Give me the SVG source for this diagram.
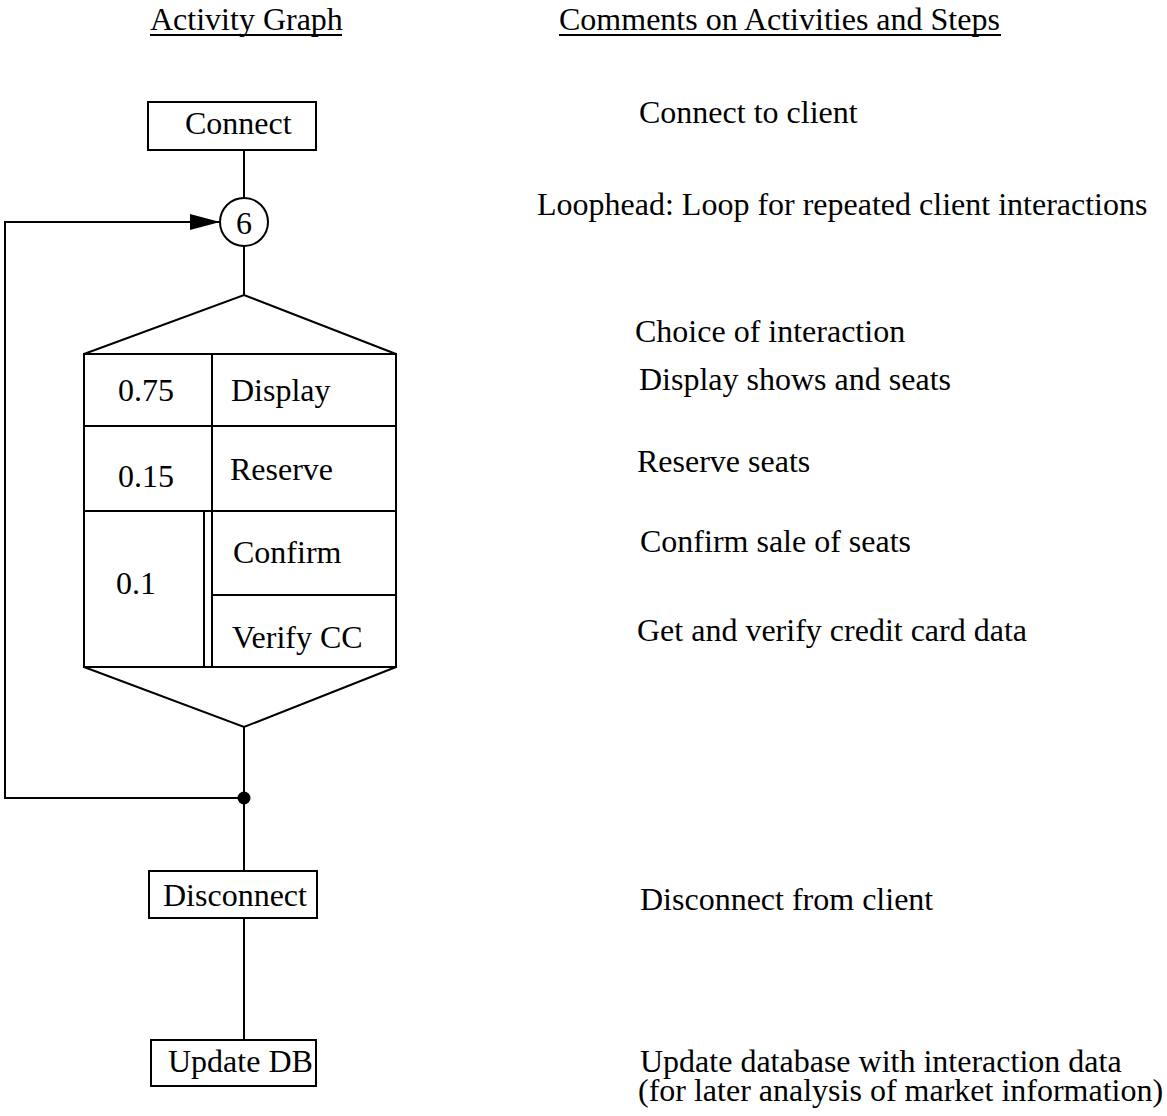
<svg xmlns="http://www.w3.org/2000/svg" width="1167" height="1116" viewBox="0 0 1167 1116">
  <style>
    text { font-family: "Liberation Serif", "Times New Roman", serif; font-size: 32px; fill: #000; }
    .box { fill: #fff; stroke: #000; stroke-width: 2; }
    .ln { fill: none; stroke: #000; stroke-width: 2; }
    .mid { text-anchor: middle; }
  </style>
  <defs>
    <marker id="arrow" viewBox="0 0 30 16" refX="30" refY="8" markerWidth="30" markerHeight="16" markerUnits="userSpaceOnUse" orient="auto">
      <path d="M0,0 L30,8 L0,16 Z" fill="#000"/>
    </marker>
  </defs>
  <rect width="1167" height="1116" fill="#fff"/>

  <!-- column headings -->
  <g id="headings">
    <text x="150" y="30">Activity Graph</text>
    <line class="ln" x1="150" y1="35" x2="342" y2="35" stroke-width="1.5"/>
    <text x="559" y="30">Comments on Activities and Steps</text>
    <line class="ln" x1="559" y1="35" x2="1001" y2="35" stroke-width="1.5"/>
  </g>

  <!-- connectors -->
  <g id="connectors">
    <line class="ln" x1="244" y1="150" x2="244" y2="198"/>
    <line class="ln" x1="244" y1="246" x2="244" y2="295"/>
    <line class="ln" x1="244" y1="727" x2="244" y2="871"/>
    <line class="ln" x1="244" y1="918" x2="244" y2="1040"/>
    <polyline class="ln" points="244,798 5,798 5,222 220,222" marker-end="url(#arrow)"/>
    <circle cx="244" cy="798" r="6.5" fill="#000"/>
  </g>

  <g id="connect">
    <rect class="box" x="148" y="102" width="168" height="48"/>
    <text x="185" y="134">Connect</text>
  </g>

  <g id="loophead">
    <circle class="box" cx="244" cy="222" r="24"/>
    <text class="mid" x="244" y="234">6</text>
  </g>

  <g id="choice">
    <polyline class="ln" points="84,354 244,295 396,354"/>
    <rect class="ln" x="84" y="354" width="312" height="313"/>
    <polyline class="ln" points="84,667 244,727 396,667"/>
    <line class="ln" x1="84" y1="426" x2="396" y2="426"/>
    <line class="ln" x1="84" y1="511" x2="396" y2="511"/>
    <line class="ln" x1="212" y1="354" x2="212" y2="667"/>
    <line class="ln" x1="204" y1="511" x2="204" y2="667"/>
    <line class="ln" x1="212" y1="595" x2="396" y2="595"/>
    <text x="118" y="401">0.75</text>
    <text x="231" y="401">Display</text>
    <text x="118" y="487">0.15</text>
    <text x="230" y="480">Reserve</text>
    <text x="116" y="594">0.1</text>
    <text x="233" y="563">Confirm</text>
    <text x="232" y="648">Verify CC</text>
  </g>

  <g id="disconnect">
    <rect class="box" x="149" y="871" width="168" height="47"/>
    <text x="163" y="906">Disconnect</text>
  </g>

  <g id="update-db">
    <rect class="box" x="151" y="1040" width="165" height="46"/>
    <text x="168" y="1072">Update DB</text>
  </g>

  <!-- comments column -->
  <g id="comments">
    <text x="639" y="123">Connect to client</text>
    <text x="537" y="215">Loophead: Loop for repeated client interactions</text>
    <text x="635" y="342">Choice of interaction</text>
    <text x="639" y="390">Display shows and seats</text>
    <text x="637" y="472">Reserve seats</text>
    <text x="640" y="552">Confirm sale of seats</text>
    <text x="637" y="641">Get and verify credit card data</text>
    <text x="640" y="910">Disconnect from client</text>
    <text x="640" y="1072">Update database with interaction data</text>
    <text x="638" y="1101">(for later analysis of market information)</text>
  </g>
</svg>
